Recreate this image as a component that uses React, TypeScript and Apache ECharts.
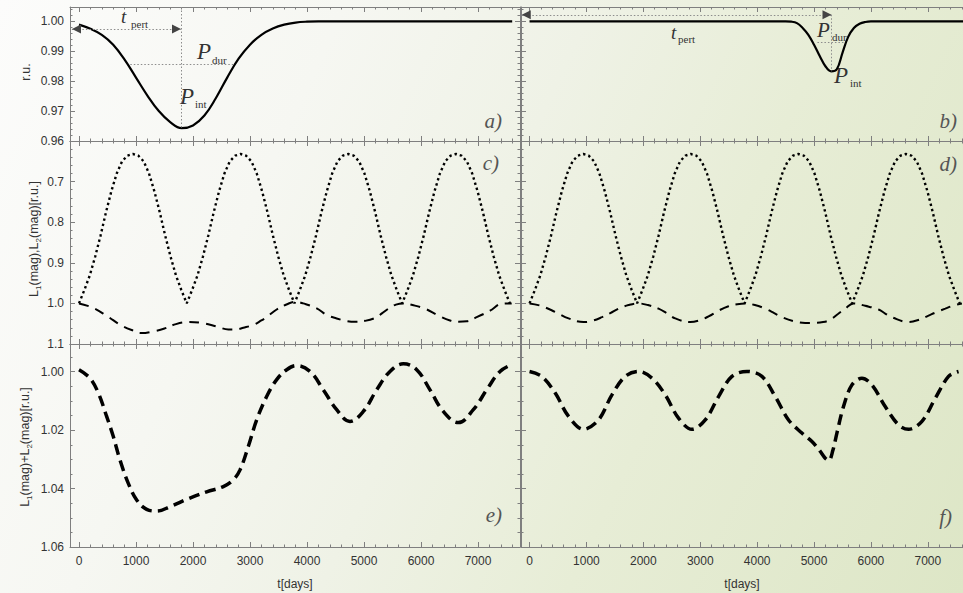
import React, { useEffect, useRef } from "react";
import * as echarts from "echarts";

// ---------------- data ----------------
// a) perturbation profile, left column
const aDays = [0, 200, 400, 600, 800, 1000, 1200, 1400, 1600, 1800, 2000, 2200, 2400, 2600, 2800, 3000, 3200, 3400, 3600, 3800, 4000, 4200, 5000, 6000, 7000, 7600];
const aFlux = [0.9989, 0.9975, 0.9955, 0.9922, 0.9872, 0.9812, 0.9752, 0.97, 0.9663, 0.9643, 0.9652, 0.9685, 0.9743, 0.9812, 0.9875, 0.9922, 0.9955, 0.9976, 0.9989, 0.9996, 0.9999, 1.0, 1.0, 1.0, 1.0, 1.0];
// b) perturbation profile, right column
const bDays = [0, 1000, 2000, 3000, 4000, 4500, 4600, 4700, 4800, 4900, 5000, 5100, 5200, 5300, 5400, 5500, 5600, 5700, 5800, 5900, 6000, 7000, 7618];
const bFlux = [1.0, 1.0, 1.0, 1.0, 1.0, 1.0, 0.9999, 0.9994, 0.9978, 0.9955, 0.9922, 0.9884, 0.985, 0.9833, 0.984, 0.9895, 0.9948, 0.9978, 0.9992, 0.9998, 1.0, 1.0, 1.0];
// c), d) L1 (dotted), sampled every 94.5 days
const l1Step = 94.5;
const l1Mag = [
  1.0, 0.967, 0.931, 0.885, 0.833, 0.776, 0.724, 0.68, 0.65, 0.636, 0.632, 0.636, 0.65, 0.68, 0.724, 0.776, 0.833, 0.885, 0.931, 0.967,
  1.0, 0.967, 0.931, 0.885, 0.833, 0.776, 0.724, 0.68, 0.65, 0.636, 0.632, 0.636, 0.65, 0.68, 0.724, 0.776, 0.833, 0.885, 0.931, 0.967,
  1.0, 0.967, 0.931, 0.885, 0.833, 0.776, 0.724, 0.68, 0.65, 0.636, 0.632, 0.636, 0.65, 0.68, 0.724, 0.776, 0.833, 0.885, 0.931, 0.967,
  1.0, 0.967, 0.931, 0.885, 0.833, 0.776, 0.724, 0.68, 0.65, 0.636, 0.632, 0.636, 0.65, 0.68, 0.724, 0.776, 0.833, 0.885, 0.931, 0.967,
  1.0,
];
// c) L2 (dashed), left column
const l2LeftDays = [0, 250, 500, 750, 950, 1100, 1300, 1500, 1700, 1918, 2150, 2415, 2620, 2750, 2883, 3058, 3200, 3300, 3468, 3650, 3800, 3933, 4170, 4350, 4521, 4680, 4850, 5018, 5193, 5320, 5427, 5560, 5690, 5850, 6070, 6304, 6509, 6650, 6801, 6977, 7211, 7416, 7591];
const l2Left = [1.0, 1.011, 1.032, 1.055, 1.067, 1.073, 1.069, 1.062, 1.051, 1.046, 1.048, 1.057, 1.064, 1.064, 1.06, 1.053, 1.042, 1.033, 1.015, 1.002, 0.996, 1.0, 1.012, 1.029, 1.037, 1.043, 1.045, 1.043, 1.036, 1.024, 1.013, 1.003, 1.0, 1.004, 1.013, 1.03, 1.042, 1.045, 1.044, 1.034, 1.018, 1.001, 1.0];
// d) L2 (dashed), right column
const l2RightDays = [0, 200, 452, 686, 949, 1100, 1272, 1420, 1565, 1740, 1900, 2080, 2267, 2420, 2560, 2824, 2980, 3146, 3320, 3497, 3650, 3791, 3960, 4142, 4300, 4436, 4650, 4845, 5021, 5160, 5285, 5420, 5548, 5694, 5900, 6134, 6250, 6369, 6661, 6850, 7012, 7160, 7306, 7450, 7599];
const l2Right = [1.0, 1.006, 1.021, 1.037, 1.046, 1.043, 1.034, 1.024, 1.013, 1.004, 1.0, 1.004, 1.013, 1.025, 1.037, 1.046, 1.042, 1.032, 1.018, 1.007, 1.002, 1.0, 1.004, 1.013, 1.024, 1.034, 1.044, 1.048, 1.048, 1.046, 1.04, 1.026, 1.013, 1.0, 1.006, 1.015, 1.025, 1.034, 1.046, 1.04, 1.03, 1.021, 1.013, 1.005, 1.0];
// e) L1+L2, left column
const eDays = [0, 193, 339, 485, 602, 719, 865, 1012, 1187, 1363, 1596, 1889, 2240, 2532, 2707, 2825, 2970, 3117, 3292, 3468, 3644, 3819, 4053, 4287, 4521, 4754, 4988, 5222, 5456, 5690, 5924, 6158, 6392, 6655, 6918, 7152, 7386, 7591];
const eSum = [0.9993, 1.0022, 1.0073, 1.0153, 1.0222, 1.0302, 1.0382, 1.0439, 1.0471, 1.0477, 1.0462, 1.0437, 1.0411, 1.0393, 1.037, 1.0336, 1.0256, 1.0165, 1.0085, 1.0027, 0.9993, 0.9979, 0.9999, 1.0062, 1.013, 1.017, 1.0136, 1.0062, 0.9999, 0.9973, 0.9993, 1.0062, 1.0136, 1.0174, 1.013, 1.0062, 0.9999, 0.9976];
// f) L1+L2, right column
const fDays = [0, 217, 452, 686, 949, 1213, 1448, 1682, 1916, 2151, 2385, 2619, 2854, 3088, 3322, 3557, 3821, 4084, 4318, 4552, 4787, 4963, 5100, 5197, 5260, 5330, 5402, 5518, 5666, 5842, 6017, 6251, 6485, 6661, 6896, 7130, 7364, 7540];
const fSum = [0.9999, 1.0016, 1.0073, 1.0153, 1.0197, 1.0165, 1.0079, 1.0016, 0.9999, 1.0022, 1.0079, 1.0159, 1.0197, 1.0165, 1.0085, 1.0016, 0.9999, 1.0016, 1.0085, 1.0165, 1.021, 1.0239, 1.027, 1.0296, 1.0304, 1.027, 1.021, 1.0119, 1.0045, 1.0022, 1.0045, 1.0119, 1.0182, 1.0197, 1.017, 1.0091, 1.0016, 0.9999];

// tick labels
const xTicks = [0, 1000, 2000, 3000, 4000, 5000, 6000, 7000];
const yTicksA = [0.96, 0.97, 0.98, 0.99, 1.0];
const yTicksC = [0.7, 0.8, 0.9, 1.0, 1.1];
const yTicksE = [1.0, 1.02, 1.04, 1.06];

// ---------------- styling / layout ----------------
const SERIF = "'Liberation Serif','Times New Roman',serif";
const SANS = "'Liberation Sans',Arial,sans-serif";
const FRAME = "#7f7f7f";

const pairs = (xs: number[], ys: number[]) => xs.map((x, i) => [x, ys[i]]);

function minorValues(min: number, max: number, step: number, majors: number[]) {
  const out: number[] = [];
  const n0 = Math.ceil(min / step - 1e-9);
  const n1 = Math.floor(max / step + 1e-9);
  for (let k = n0; k <= n1; k++) {
    const v = +(k * step).toFixed(6);
    if (!majors.some((m) => Math.abs(m - v) < step * 1e-3)) out.push(v);
  }
  return out;
}

function xAxesFor(grid: number, min: number, max: number, labels: boolean) {
  const minors = minorValues(min, max, 200, xTicks);
  const mk = (position: string, major: boolean) => ({
    type: "value",
    gridIndex: grid,
    min,
    max,
    position,
    silent: true,
    splitLine: { show: false },
    axisLine: { show: major, onZero: false, lineStyle: { color: FRAME, width: 1 } },
    axisTick: {
      show: true,
      inside: true,
      length: major ? 5 : 2.5,
      customValues: major ? xTicks : minors,
      lineStyle: { color: FRAME, width: 1 },
    },
    axisLabel: {
      show: major && labels && position === "bottom",
      customValues: xTicks,
      margin: 8,
      color: "#333",
      fontSize: 12,
      fontFamily: SANS,
      formatter: (v: number) => String(Math.round(v)),
    },
  });
  return [mk("bottom", true), mk("bottom", false), mk("top", true), mk("top", false)];
}

function yAxesFor(
  grid: number,
  min: number,
  max: number,
  inverse: boolean,
  labelTicks: number[],
  minorStep: number,
  digits: number,
  labels: boolean,
  showRight: boolean
) {
  const minors = minorValues(min, max, minorStep, labelTicks);
  const mk = (position: string, major: boolean) => ({
    type: "value",
    gridIndex: grid,
    min,
    max,
    inverse,
    position,
    show: position === "right" ? showRight : true,
    silent: true,
    splitLine: { show: false },
    axisLine: { show: major, onZero: false, lineStyle: { color: FRAME, width: 1 } },
    axisTick: {
      show: true,
      inside: true,
      length: major ? 5 : 2.5,
      customValues: major ? labelTicks : minors,
      lineStyle: { color: FRAME, width: 1 },
    },
    axisLabel: {
      show: major && labels && position === "left",
      customValues: labelTicks,
      margin: 6,
      color: "#333",
      fontSize: 12,
      fontFamily: SANS,
      formatter: (v: number) => v.toFixed(digits),
    },
  });
  return [mk("left", true), mk("left", false), mk("right", true), mk("right", false)];
}

const LX = { left: 70, width: 450 };
const RX = { left: 521, width: 442 };
const ROWS = [
  { top: 7, height: 134 },
  { top: 141, height: 203 },
  { top: 344, height: 203 },
];
const LMIN = -158, LMAX = 7737;
const RMIN = -150, RMAX = 7618;

function txt(x: number, y: number, text: string, size: number, italic: boolean, fill = "#333", align = "left") {
  return {
    type: "text",
    x,
    y,
    silent: true,
    style: {
      text,
      fontSize: size,
      fontFamily: SERIF,
      fontStyle: italic ? "italic" : "normal",
      fill,
      textAlign: align,
      textVerticalAlign: "middle",
      verticalAlign: "middle",
    },
  };
}

function vName(x: number, y: number, parts: [string, boolean][]) {
  const text = parts.map(([s, sub]) => `{${sub ? "s" : "n"}|${s}}`).join("");
  return {
    type: "text",
    x,
    y,
    rotation: Math.PI / 2,
    silent: true,
    style: {
      text,
      textAlign: "center",
      textVerticalAlign: "middle",
      verticalAlign: "middle",
      rich: {
        n: { fontSize: 12.5, fontFamily: SANS, fill: "#333", color: "#333", lineHeight: 16, verticalAlign: "middle" },
        s: { fontSize: 8, fontFamily: SANS, fill: "#333", color: "#333", lineHeight: 8, verticalAlign: "bottom" },
      },
    },
  };
}

const guide = { color: "#8c8c8c", width: 1, type: [1.5, 2] };
const arrowHead = (x: number, y: number, rot: number) => ({
  coord: [x, y],
  symbol: "triangle",
  symbolSize: [9, 9],
  symbolRotate: rot,
  itemStyle: { color: "#444" },
});

function buildOption() {
  const grids = [
    { ...LX, ...ROWS[0] },
    { ...RX, ...ROWS[0] },
    { ...LX, ...ROWS[1] },
    { ...RX, ...ROWS[1] },
    { ...LX, ...ROWS[2] },
    { ...RX, ...ROWS[2] },
  ].map((g) => ({ ...g, containLabel: false, outerBoundsMode: "none" }));

  const xAxis = [
    ...xAxesFor(0, LMIN, LMAX, false),
    ...xAxesFor(1, RMIN, RMAX, false),
    ...xAxesFor(2, LMIN, LMAX, false),
    ...xAxesFor(3, RMIN, RMAX, false),
    ...xAxesFor(4, LMIN, LMAX, true),
    ...xAxesFor(5, RMIN, RMAX, true),
  ];
  const yAxis = [
    ...yAxesFor(0, 0.96, 1.0048, false, yTicksA, 0.002, 2, true, true),
    ...yAxesFor(1, 0.96, 1.0048, false, yTicksA, 0.002, 2, false, false),
    ...yAxesFor(2, 0.6, 1.1, true, yTicksC, 0.02, 1, true, true),
    ...yAxesFor(3, 0.6, 1.1, true, yTicksC, 0.02, 1, false, false),
    ...yAxesFor(4, 0.9905, 1.06, true, yTicksE, 0.005, 2, true, true),
    ...yAxesFor(5, 0.9905, 1.06, true, yTicksE, 0.005, 2, false, false),
  ];

  const l1Data = l1Mag.map((v, i) => [i * l1Step, v]);
  const base = { type: "line", showSymbol: false, silent: true, animation: false };
  const solid = { color: "#000", width: 2.2 };
  const dotted = { color: "#000", width: 2.4, type: [2.4, 3] };
  const dashed = { color: "#000", width: 2, type: [10, 7] };
  const thick = { color: "#000", width: 3.5, type: [11, 6] };

  const series = [
    {
      ...base,
      xAxisIndex: 0,
      yAxisIndex: 0,
      data: pairs(aDays, aFlux),
      smooth: 0.4,
      lineStyle: solid,
      markLine: {
        silent: true,
        symbol: "none",
        animation: false,
        label: { show: false },
        lineStyle: guide,
        data: [
          [{ coord: [-125, 0.99746] }, { coord: [1790, 0.99746] }],
          [{ coord: [1802, 1.0048] }, { coord: [1802, 0.9643] }],
          [{ coord: [900, 0.9858] }, { coord: [2710, 0.9858] }],
        ],
      },
      markPoint: {
        silent: true,
        animation: false,
        label: { show: false },
        data: [arrowHead(-44, 0.99746, 90), arrowHead(1711, 0.99746, -90)],
      },
    },
    {
      ...base,
      xAxisIndex: 4,
      yAxisIndex: 4,
      data: pairs(bDays, bFlux),
      smooth: 0.4,
      lineStyle: solid,
      markLine: {
        silent: true,
        symbol: "none",
        animation: false,
        label: { show: false },
        lineStyle: guide,
        data: [
          [{ coord: [-135, 1.0022] }, { coord: [5300, 1.0022] }],
          [{ coord: [5300, 1.0022] }, { coord: [5300, 0.9833] }],
          [{ coord: [5060, 0.993] }, { coord: [5552, 0.993] }],
        ],
      },
      markPoint: {
        silent: true,
        animation: false,
        label: { show: false },
        data: [arrowHead(-58, 1.0022, 90), arrowHead(5228, 1.0022, -90)],
      },
    },
    { ...base, xAxisIndex: 8, yAxisIndex: 8, data: l1Data, lineStyle: dotted },
    { ...base, xAxisIndex: 8, yAxisIndex: 8, data: pairs(l2LeftDays, l2Left), smooth: 0.4, lineStyle: dashed },
    { ...base, xAxisIndex: 12, yAxisIndex: 12, data: l1Data, lineStyle: dotted },
    { ...base, xAxisIndex: 12, yAxisIndex: 12, data: pairs(l2RightDays, l2Right), smooth: 0.4, lineStyle: dashed },
    { ...base, xAxisIndex: 16, yAxisIndex: 16, data: pairs(eDays, eSum), smooth: 0.4, lineStyle: thick },
    { ...base, xAxisIndex: 20, yAxisIndex: 20, data: pairs(fDays, fSum), smooth: 0.35, lineStyle: thick },
  ];

  const graphic = [
    // panel a annotations
    txt(121, 16.6, "t", 19, true),
    txt(131, 23.5, "pert", 11, false),
    txt(197, 51, "P", 23, true),
    txt(212, 60.3, "dur", 11, false),
    txt(180, 96, "P", 23, true),
    txt(195, 104.3, "int", 11, false),
    // panel b annotations
    txt(671, 32.6, "t", 19, true),
    txt(678, 39.3, "pert", 11, false),
    txt(817, 30, "P", 21, true),
    txt(832, 37.3, "dur", 11, false),
    txt(834, 75, "P", 23, true),
    txt(850, 83.3, "int", 11, false),
    // panel letters
    txt(502, 121, "a)", 21, true, "#555", "right"),
    txt(957, 121, "b)", 21, true, "#555", "right"),
    txt(499, 163, "c)", 21, true, "#555", "right"),
    txt(957, 164, "d)", 21, true, "#555", "right"),
    txt(502, 515, "e)", 21, true, "#555", "right"),
    txt(952, 517, "f)", 21, true, "#555", "right"),
    // axis names
    vName(26, 72, [["r.u.", false]]),
    vName(34, 239, [["L", false], ["1", true], ["(mag),L", false], ["2", true], ["(mag)[r.u.]", false]]),
    vName(25, 447, [["L", false], ["1", true], ["(mag)+L", false], ["2", true], ["(mag)[r.u.]", false]]),
    {
      type: "text",
      x: 295,
      y: 584,
      silent: true,
      style: { text: "t[days]", fontSize: 12, fontFamily: SANS, fill: "#333", textAlign: "center", textVerticalAlign: "middle", verticalAlign: "middle" },
    },
    {
      type: "text",
      x: 742,
      y: 584,
      silent: true,
      style: { text: "t[days]", fontSize: 12, fontFamily: SANS, fill: "#333", textAlign: "center", textVerticalAlign: "middle", verticalAlign: "middle" },
    },
  ];

  return {
    animation: false,
    backgroundColor: "transparent",
    textStyle: { fontFamily: SANS },
    grid: grids,
    xAxis,
    yAxis,
    series,
    graphic,
  };
}

export default function App() {
  const ref = useRef<HTMLDivElement>(null);
  useEffect(() => {
    document.body.style.margin = "0";
    const chart = echarts.init(ref.current as HTMLDivElement, null, { renderer: "svg" });
    chart.setOption(buildOption() as any);
    return () => chart.dispose();
  }, []);
  return (
    <div
      ref={ref}
      style={{
        position: "absolute",
        left: 0,
        top: 0,
        width: 963,
        height: 593,
        background:
          "linear-gradient(115deg, #fcfcfb 0%, #f6f7f2 28%, #eff2e6 48%, #e7edd6 68%, #dde6c6 100%)",
      }}
    />
  );
}
